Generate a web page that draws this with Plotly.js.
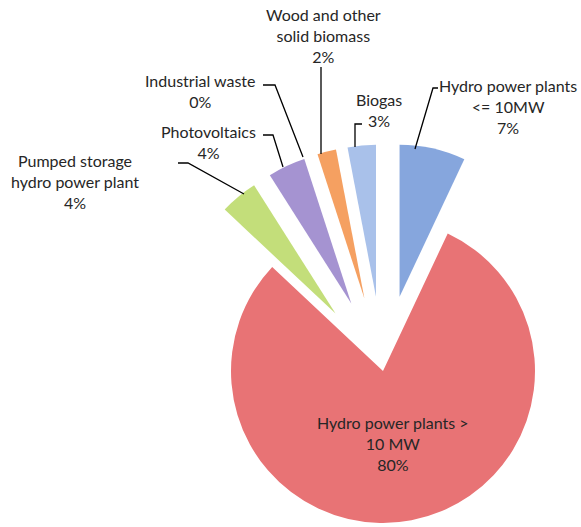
<!DOCTYPE html>
<html>
<head>
<meta charset="utf-8">
<script src="https://cdn.plot.ly/plotly-3.0.1.min.js"></script>
<style>
html,body{margin:0;padding:0;overflow:hidden;background:#fff;}
#chart{width:611px;height:599px;}
</style>
</head>
<body>
<div id="chart"></div>
<script>
// ---- data ----
var categories = [
  "Hydro power plants <= 10MW",
  "Hydro power plants > 10 MW",
  "Pumped storage hydro power plant",
  "Photovoltaics",
  "Industrial waste",
  "Wood and other solid biomass",
  "Biogas"
];
var labelLines = [
  ["Hydro power plants", "<= 10MW"],
  ["Hydro power plants >", "10 MW"],
  ["Pumped storage", "hydro power plant"],
  ["Photovoltaics"],
  ["Industrial waste"],
  ["Wood and other", "solid biomass"],
  ["Biogas"]
];
var shares = [7, 80, 4, 4, 0, 2, 3];
var pulls = [0.5, 0, 0.49, 0.49, 0.49, 0.49, 0.49];
var colors = ["#86a6dd", "#e87375", "#c3de7a", "#a593d1", "#a593d1", "#f5a061", "#a9c1ea"];

// ---- layout helpers (pixel -> paper) ----
var W = 611, H = 599;
function fx(p){ return p / W; }
function fy(p){ return 1 - p / H; }
function esc(s){ return s.replace(/&/g,"&amp;").replace(/</g,"&lt;").replace(/>/g,"&gt;"); }

// label anchor positions (pixel centers) and leader line paths
var labelPos = [[508,107],[393,443],[75,181],[208,142],[200,91],[323,36],[379,110]];
var leaders = [
  [[438,88],[433,88],[415,149]],
  null,
  [[178,163],[188,163],[244,194]],
  [[263,135],[273,135],[283,167]],
  [[263,85],[275,85],[303,157]],
  [[321,67],[321,154]],
  [[362,124],[355,124],[355,147]]
];

var annotations = [], shapes = [];
for (var i = 0; i < categories.length; i++) {
  var txt = labelLines[i].map(esc).join("<br>") + "<br>" + shares[i] + "%";
  annotations.push({
    xref: "paper", yref: "paper",
    x: fx(labelPos[i][0]), y: fy(labelPos[i][1]),
    xanchor: "center", yanchor: "middle",
    text: txt, showarrow: false, align: "center",
    font: {family: "Lato, 'Open Sans', sans-serif", size: 16, color: "#262626"}
  });
  if (leaders[i]) {
    var d = leaders[i].map(function(pt, k){
      return (k === 0 ? "M" : "L") + fx(pt[0]).toFixed(5) + "," + fy(pt[1]).toFixed(5);
    }).join(" ");
    shapes.push({type: "path", xref: "paper", yref: "paper", path: d,
      line: {color: "#000000", width: 1.3}});
  }
}

var trace = {
  type: "pie",
  labels: categories,
  values: shares,
  pull: pulls,
  sort: false,
  direction: "clockwise",
  rotation: 0,
  textinfo: "none",
  hoverinfo: "none",
  marker: {colors: colors, line: {width: 0}},
  domain: {x: [155 / W, 1], y: [0, 456 / H]},
  showlegend: false
};

var layout = {
  width: W, height: H,
  margin: {l: 0, r: 0, t: 0, b: 0, pad: 0},
  paper_bgcolor: "#ffffff",
  plot_bgcolor: "#ffffff",
  showlegend: false,
  annotations: annotations,
  shapes: shapes
};

Plotly.newPlot("chart", [trace], layout, {staticPlot: true, displayModeBar: false});
</script>
</body>
</html>
